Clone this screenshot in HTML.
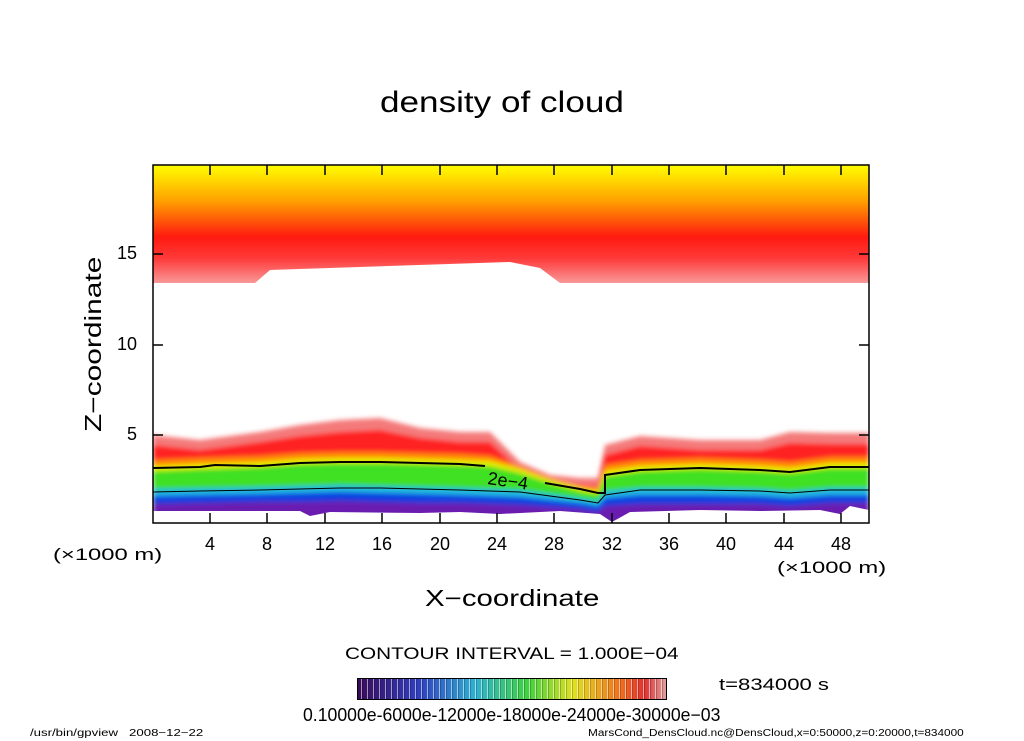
<!DOCTYPE html>
<html><head><meta charset="utf-8"><style>
body{margin:0;background:#fff;width:1024px;height:741px;overflow:hidden;position:relative;font-family:"Liberation Sans",sans-serif;}
.t{position:absolute;white-space:nowrap;color:#000;transform-origin:0 0}
</style></head><body>
<svg width="1024" height="741" style="position:absolute;left:0;top:0">
<defs>
<linearGradient id="up" x1="0" y1="165" x2="0" y2="285" gradientUnits="userSpaceOnUse">
<stop offset="0" stop-color="#ffff00"/><stop offset="0.3" stop-color="#ffa000"/><stop offset="0.6" stop-color="#ff1a10"/><stop offset="0.78" stop-color="#ff3a3a"/><stop offset="1" stop-color="#f8a0a0"/>
</linearGradient>
<filter id="bl"><feGaussianBlur stdDeviation="2.5"/></filter>
<clipPath id="cp"><rect x="153" y="165" width="716" height="358"/></clipPath>
</defs>
<g clip-path="url(#cp)">
<path d="M153,165 H869 V283 L560,283 L540,268 L510,262 L270,270 L255,283 L153,283 Z" fill="url(#up)"/>
<g filter="url(#bl)">
<path d="M153,435 L200,440 L260,432 L300,425 L340,420 L380,418 L420,428 L460,432 L490,432 L520,462 L550,475 L580,478 L598,478 L605,445 L640,436 L700,440 L760,440 L790,432 L830,433 L869,433 V525 H153Z" fill="#f47a7a"/>
<path d="M153,445 L200,450 L260,442 L300,436 L340,432 L380,430 L420,438 L460,442 L490,442 L520,470 L550,482 L580,485 L598,486 L605,455 L640,446 L700,450 L760,450 L790,443 L830,444 L869,444 V525 H153Z" fill="#ff2020"/>
<path d="M153,460 L200,458 L260,456 L300,453 L340,452 L380,452 L420,453 L460,454 L490,456 L520,466 L550,478 L580,486 L598,488 L605,465 L640,460 L700,458 L760,460 L790,462 L830,457 L869,457 V525 H153Z" fill="#ff8a00"/>
<path d="M153,466 L200,464 L260,462 L300,459 L340,458 L380,458 L420,459 L460,460 L490,461 L520,469 L550,480 L580,488 L598,491 L605,471 L640,466 L700,464 L760,466 L790,468 L830,463 L869,463 V525 H153Z" fill="#e8f000"/>
<path d="M153,471 L200,469 L260,467 L300,464 L340,463 L380,463 L420,464 L460,465 L490,466 L520,473 L550,483 L580,491 L598,494 L605,476 L640,471 L700,469 L760,471 L790,473 L830,468 L869,468 V525 H153Z" fill="#40e020"/>
<path d="M153,489 L200,488 L260,487 L300,486 L340,485 L380,486 L420,487 L460,488 L490,489 L520,490 L550,494 L580,498 L598,501 L605,491 L640,488 L700,488 L760,489 L790,491 L830,488 L869,488 V525 H153Z" fill="#20b8e0"/>
<path d="M153,496 L200,495 L260,494 L300,493 L340,492 L380,493 L420,494 L460,495 L490,496 L520,497 L550,500 L580,503 L598,506 L605,498 L640,495 L700,495 L760,496 L790,498 L830,495 L869,495 V525 H153Z" fill="#1040e0"/>
<path d="M153,504 L200,503 L260,502 L300,502 L340,501 L380,502 L420,503 L460,503 L490,504 L520,505 L550,507 L580,509 L598,512 L605,506 L640,504 L700,504 L760,504 L790,506 L830,503 L869,503 V525 H153Z" fill="#6a1ab0"/>
</g>
<path d="M153,511 L300,511 L310,516 L330,512 L420,513 L460,512 L500,514 L560,511 L600,514 L612,522 L630,512 L700,510 L760,511 L820,510 L840,514 L850,506 L869,510 V525 H153Z" fill="#fff"/>
<path fill="none" stroke="#000" stroke-width="2" d="M153,468 L200,467 L215,465 L260,466 L300,463 L340,462 L380,462 L420,463 L460,464 L485,466 M545,483 L580,489 L598,493 L605,493 L605,475 L640,470 L700,468 L760,470 L790,472 L830,467 L869,467"/>
<path fill="none" stroke="#000" stroke-width="1" d="M153,492 L200,491 L260,490 L300,489 L340,488 L380,488 L420,489 L460,490 L490,491 L520,492 L550,496 L580,500 L598,503 L605,495 L640,490 L700,490 L760,491 L790,493 L830,490 L869,490"/>
<text x="487" y="484" font-size="18" font-family="Liberation Sans" transform="rotate(8 487 484)">2e−4</text>
</g>
<rect x="153" y="165" width="716" height="358" fill="none" stroke="#000" stroke-width="1.5"/>
<g stroke="#000" stroke-width="1.5">
<path d="M153,254h10M153,345h10M153,435h10M869,254h-10M869,345h-10M869,435h-10"/>
<path d="M210,523v-10M267,523v-10M325,523v-10M382,523v-10M440,523v-10M497,523v-10M554,523v-10M612,523v-10M669,523v-10M726,523v-10M784,523v-10M841,523v-10"/>
<path d="M210,165v10M267,165v10M325,165v10M382,165v10M440,165v10M497,165v10M554,165v10M612,165v10M669,165v10M726,165v10M784,165v10M841,165v10"/>
</g>
</svg>
<div class="t" style="left:380px;top:86px;font-size:30px;transform:scaleX(1.17)">density of cloud</div>
<div class="t" style="left:80px;top:432px;font-size:23px;transform:rotate(-90deg) scaleX(1.3)">Z−coordinate</div>
<div class="t" style="left:117px;top:243px;font-size:18px">15</div>
<div class="t" style="left:117px;top:334px;font-size:18px">10</div>
<div class="t" style="left:127px;top:424px;font-size:18px">5</div>
<div class="t" style="left:0;top:534px;font-size:18px;width:100%">
<span style="position:absolute;left:210px;transform:translateX(-50%)">4</span>
<span style="position:absolute;left:267px;transform:translateX(-50%)">8</span>
<span style="position:absolute;left:325px;transform:translateX(-50%)">12</span>
<span style="position:absolute;left:382px;transform:translateX(-50%)">16</span>
<span style="position:absolute;left:440px;transform:translateX(-50%)">20</span>
<span style="position:absolute;left:497px;transform:translateX(-50%)">24</span>
<span style="position:absolute;left:554px;transform:translateX(-50%)">28</span>
<span style="position:absolute;left:612px;transform:translateX(-50%)">32</span>
<span style="position:absolute;left:669px;transform:translateX(-50%)">36</span>
<span style="position:absolute;left:726px;transform:translateX(-50%)">40</span>
<span style="position:absolute;left:784px;transform:translateX(-50%)">44</span>
<span style="position:absolute;left:841px;transform:translateX(-50%)">48</span>
</div>
<div class="t" style="left:53px;top:545px;font-size:17px;transform:scaleX(1.4)">(×1000 m)</div>
<div class="t" style="left:777px;top:558px;font-size:17px;transform:scaleX(1.4)">(×1000 m)</div>
<div class="t" style="left:425px;top:585px;font-size:23px;transform:scaleX(1.28)">X−coordinate</div>
<div class="t" style="left:345px;top:644px;font-size:17px;transform:scaleX(1.22)">CONTOUR INTERVAL = 1.000E−04</div>
<div style="position:absolute;left:357px;top:678px;width:310px;height:22px;border:1px solid #000;box-sizing:border-box;background:repeating-linear-gradient(90deg,rgba(255,255,255,0) 0 3px,rgba(255,255,255,0.55) 3px 4px,rgba(0,0,0,0.2) 4px 5px,rgba(255,255,255,0) 5px 6px),linear-gradient(90deg,#3a0a5a,#3040c0 20%,#30b0d0 38%,#40d040 55%,#e0e020 70%,#f07020 85%,#e03030 93%,#e0a0a0)"></div>
<div class="t" style="left:719px;top:675px;font-size:17px;transform:scaleX(1.3)">t=834000 s</div>
<div class="t" style="left:303px;top:705px;font-size:18px;transform:scaleX(0.98)">0.10000e-6000e-12000e-18000e-24000e-30000e−03</div>
<div class="t" style="left:30px;top:728px;font-size:10px;transform:scaleX(1.32)">/usr/bin/gpview &nbsp; 2008−12−22</div>
<div class="t" style="left:588px;top:728px;font-size:10px;transform:scaleX(1.18)">MarsCond_DensCloud.nc@DensCloud,x=0:50000,z=0:20000,t=834000</div>
</body></html>
